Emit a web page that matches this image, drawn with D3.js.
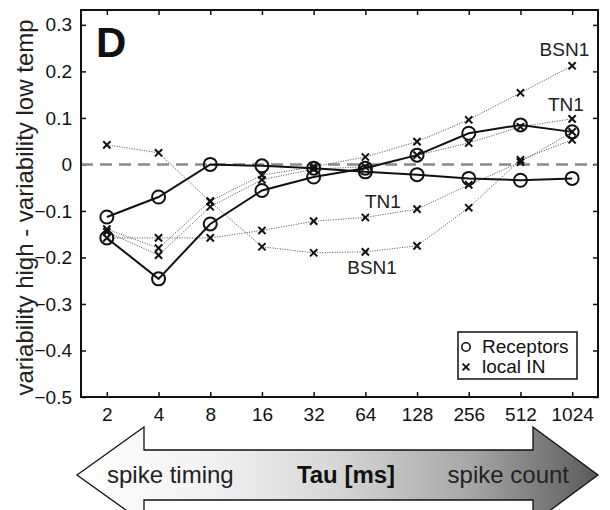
<!DOCTYPE html>
<html><head><meta charset="utf-8">
<script src="https://cdn.jsdelivr.net/npm/d3@7"></script>
<style>
body{margin:0;background:#fff}
svg{display:block}
text{font-family:"Liberation Sans",Arial,Helvetica,sans-serif}
</style>
</head><body>
<svg id="chart" width="610" height="510"></svg>
<script>
// ---------- data ----------
const tauValues = [2, 4, 8, 16, 32, 64, 128, 256, 512, 1024];
const yTickValues = [-0.5, -0.4, -0.3, -0.2, -0.1, 0, 0.1, 0.2, 0.3];
const receptorsA = [-0.113, -0.070, 0.000, -0.003, -0.008, -0.016, -0.022, -0.030, -0.034, -0.030];
const receptorsB = [-0.158, -0.246, -0.128, -0.056, -0.027, -0.008, 0.020, 0.067, 0.085, 0.070];
const localBSN1Up = [-0.139, -0.180, -0.079, -0.023, -0.005, 0.016, 0.049, 0.096, 0.154, 0.212];
const localTN1Up = [-0.145, -0.195, -0.091, -0.033, -0.010, -0.005, 0.020, 0.046, 0.081, 0.098];
const localTN1Low = [-0.158, -0.158, -0.158, -0.142, -0.122, -0.114, -0.096, -0.044, 0.005, 0.070];
const localBSN1Low = [0.042, 0.025, -0.080, -0.177, -0.190, -0.188, -0.175, -0.093, 0.010, 0.053];
const curveLabels = [
  {text: "BSN1", tau: 923, value: 0.233},
  {text: "TN1", tau: 942, value: 0.115},
  {text: "TN1", tau: 81, value: -0.094},
  {text: "BSN1", tau: 70, value: -0.236}
];
const legendItems = ["Receptors", "local IN"];
const yLabel = "variability high - variability low temp";
const panelLetter = "D";
const arrowTexts = ["spike timing", "Tau [ms]", "spike count"];

// ---------- layout ----------
const svg = d3.select("#chart");
const L = 81, R = 598, T = 10, B = 397;
const x = d3.scaleLog().base(2).domain([Math.SQRT2, 1024 * Math.SQRT2]).range([L, R]);
const y = d3.scaleLinear().domain([-0.5, 0.332]).range([B, T]);

// axes
const fmtY = d => d === 0 ? "0" : (d < 0 ? "\u2212" + d3.format(".1f")(-d) : d3.format(".1f")(d));
const gB = svg.append("g").attr("transform", `translate(0,${B})`)
  .call(d3.axisBottom(x).tickValues(tauValues).tickFormat(d => d).tickSize(-5).tickPadding(11));
const gT = svg.append("g").attr("transform", `translate(0,${T})`)
  .call(d3.axisTop(x).tickValues(tauValues).tickFormat("").tickSize(-5));
const gL = svg.append("g").attr("transform", `translate(${L},0)`)
  .call(d3.axisLeft(y).tickValues(yTickValues).tickFormat(fmtY).tickSize(-5).tickPadding(9));
const gR = svg.append("g").attr("transform", `translate(${R},0)`)
  .call(d3.axisRight(y).tickValues(yTickValues).tickFormat("").tickSize(-5));
[gB, gT, gL, gR].forEach(g => {
  g.select(".domain").remove();
  g.selectAll(".tick line").attr("stroke", "#111").attr("stroke-width", 1.5);
  g.selectAll(".tick text").attr("fill", "#111").style("font-size", "19px")
   .style("font-family", '"Liberation Sans",Arial,sans-serif');
});

// zero dashed line
svg.append("line")
  .attr("x1", L).attr("x2", R).attr("y1", y(0)).attr("y2", y(0))
  .attr("stroke", "#8a8a8a").attr("stroke-width", 2.5).attr("stroke-dasharray", "12,7");

const line = d3.line().x((d, i) => x(tauValues[i])).y(d => y(d));

// local IN series (dotted, crosses)
const localSeries = [localBSN1Up, localTN1Up, localTN1Low, localBSN1Low];
localSeries.forEach(s => {
  svg.append("path").datum(s).attr("d", line)
    .attr("fill", "none").attr("stroke", "#666").attr("stroke-width", 1)
    .attr("stroke-dasharray", "1.2,1.3");
});
const crossPath = (cx, cy, r) => `M${cx - r},${cy - r}L${cx + r},${cy + r}M${cx - r},${cy + r}L${cx + r},${cy - r}`;
localSeries.forEach(s => {
  svg.append("g").selectAll("path").data(s).join("path")
    .attr("d", (d, i) => crossPath(x(tauValues[i]), y(d), 3.6))
    .attr("stroke", "#111").attr("stroke-width", 2).attr("fill", "none");
});

// receptors (solid, circles)
const recSeries = [receptorsA, receptorsB];
recSeries.forEach(s => {
  svg.append("path").datum(s).attr("d", line)
    .attr("fill", "none").attr("stroke", "#111").attr("stroke-width", 2);
});
recSeries.forEach(s => {
  svg.append("g").selectAll("circle").data(s).join("circle")
    .attr("cx", (d, i) => x(tauValues[i])).attr("cy", d => y(d)).attr("r", 6.5)
    .attr("fill", "none").attr("stroke", "#111").attr("stroke-width", 2);
});

// frame
svg.append("rect").attr("x", L).attr("y", T).attr("width", R - L).attr("height", B - T)
  .attr("fill", "none").attr("stroke", "#111").attr("stroke-width", 2);

// curve labels
svg.append("g").selectAll("text").data(curveLabels).join("text")
  .attr("x", d => x(d.tau)).attr("y", d => y(d.value))
  .attr("text-anchor", "middle").style("font-size", "19px").attr("fill", "#222")
  .text(d => d.text);

// panel letter
svg.append("text").attr("x", 96).attr("y", 57)
  .style("font-size", "42px").style("font-weight", "bold").attr("fill", "#111").text(panelLetter);

// y label
svg.append("text")
  .attr("transform", `translate(33,${(T + B) / 2 + 4}) rotate(-90)`)
  .attr("text-anchor", "middle").style("font-size", "24px").attr("fill", "#222")
  .text(yLabel);

// legend
const lg = svg.append("g");
lg.append("rect").attr("x", 458).attr("y", 332).attr("width", 119).attr("height", 47)
  .attr("fill", "#fff").attr("stroke", "#111").attr("stroke-width", 1.5);
lg.append("circle").attr("cx", 466).attr("cy", 347).attr("r", 4.2)
  .attr("fill", "none").attr("stroke", "#111").attr("stroke-width", 1.6);
lg.append("path").attr("d", crossPath(466, 367, 3.4)).attr("stroke", "#111").attr("stroke-width", 1.8);
lg.selectAll("text").data(legendItems).join("text")
  .attr("x", 482).attr("y", (d, i) => 353 + i * 20)
  .style("font-size", "19px").attr("fill", "#111").text(d => d);

// arrow
const defs = svg.append("defs");
const grad = defs.append("linearGradient").attr("id", "arrowGrad")
  .attr("x1", "0").attr("x2", "1").attr("y1", "0").attr("y2", "0");
[[0, "#ffffff"], [0.25, "#f2f2f2"], [0.5, "#d6d6d6"], [0.75, "#a8a8a8"], [1, "#5a5a5a"]]
  .forEach(([o, c]) => grad.append("stop").attr("offset", o).attr("stop-color", c));
const ax0 = 77, ax1 = 598, hb0 = 144, hb1 = 533, cy = 475, sh = 25, hh = 48;
const arrowPts = [[ax0, cy], [hb0, cy - hh], [hb0, cy - sh], [hb1, cy - sh], [hb1, cy - hh], [ax1, cy],
  [hb1, cy + hh], [hb1, cy + sh], [hb0, cy + sh], [hb0, cy + hh]];
svg.append("path").attr("d", d3.line()(arrowPts) + "Z")
  .attr("fill", "url(#arrowGrad)").attr("stroke", "#111").attr("stroke-width", 1.3);
svg.append("text").attr("x", 107).attr("y", 483).style("font-size", "24px").attr("fill", "#222").text(arrowTexts[0]);
svg.append("text").attr("x", 346).attr("y", 483).attr("text-anchor", "middle")
  .style("font-size", "24px").style("font-weight", "bold").attr("fill", "#111").text(arrowTexts[1]);
svg.append("text").attr("x", 569).attr("y", 483).attr("text-anchor", "end")
  .style("font-size", "24px").attr("fill", "#222").text(arrowTexts[2]);
</script>
</body></html>
